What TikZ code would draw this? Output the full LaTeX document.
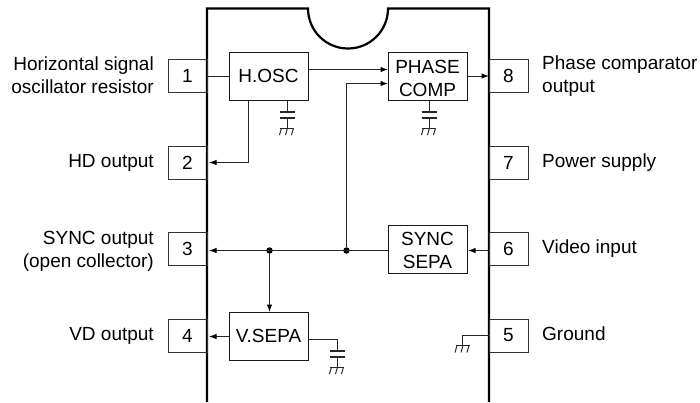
\documentclass[tikz,border=0pt]{standalone}
\usepackage{fontspec}
\setmainfont{Liberation Sans}
\usetikzlibrary{arrows.meta}
\tikzset{
  x=1pt,y=-1pt,
  txt/.style={font=\fontsize{19}{23}\selectfont},
  pin/.style={draw=black!80,line width=1pt,minimum width=39pt,minimum height=33pt,inner sep=0pt,outer sep=0pt,txt},
  block/.style={draw=black!90,line width=1pt,minimum width=79pt,minimum height=48pt,inner sep=0pt,outer sep=0pt,align=center,txt},
  lab/.style={align=right,anchor=east,txt,inner sep=0pt},
  labr/.style={align=left,anchor=west,txt,inner sep=0pt},
  wire/.style={draw=black!85,line width=1pt},
  arr/.style={wire,-{Latex[length=7.5pt,width=5.5pt,black]}},
  dot/.style={circle,fill=black,minimum size=6.5pt,inner sep=0pt},
  gnd/.pic={
    \draw[wire,line cap=butt] (-7,0)--(7,0);
    \foreach \dx in {-6,0,6}{\draw[wire] (\dx+0.5,0)--(\dx-1.5,7);}
  },
  capgnd/.pic={
    \draw[wire,line width=1.3pt] (-7.5,0)--(7.5,0) (-7.5,6)--(7.5,6);
    \draw[wire] (0,6)--(0,16);
    \pic at (0,16) {gnd};
  }
}
\begin{document}
\begin{tikzpicture}
\useasboundingbox (0,0) rectangle (700,402);
% package outline
\draw[line width=2.2pt,line join=miter] (207,402)--(207,8.5)--(308,8.5) arc[start angle=180,end angle=360,radius=40,y radius=-40] --(489,8.5)--(489,402);
% pins
\node[pin] (p1) at (187.5,76) {1};
\node[pin] (p2) at (187.5,162.5) {2};
\node[pin] (p3) at (187.5,249) {3};
\node[pin] (p4) at (187.5,335.5) {4};
\node[pin] (p8) at (508.5,76) {8};
\node[pin] (p7) at (508.5,162.5) {7};
\node[pin] (p6) at (508.5,249) {6};
\node[pin] (p5) at (508.5,335.5) {5};
% blocks
\node[block] (hosc) at (268.5,76) {H.OSC};
\node[block] (phase) at (427.5,76) {\rule{0pt}{18.5pt}PHASE\\COMP};
\node[block] (sync) at (427.5,249) {\rule{0pt}{16.5pt}SYNC\\SEPA};
\node[block] (vsepa) at (268.5,336) {V.SEPA};
% junctions
\node[dot] (j1) at (346.5,250.5) {};
\node[dot] (j2) at (269.5,250.5) {};
% free ends
\coordinate (a1) at (308,69.5);
\coordinate (a2) at (388,69.5);
\coordinate (b1) at (346.5,83.5);
\coordinate (b2) at (388,83.5);
\coordinate (c1) at (248.5,100);
\coordinate (c2) at (248.5,162.5);
\coordinate (c3) at (209,162.5);
\coordinate (d1) at (308,339.5);
\coordinate (d2) at (337,339.5);
\coordinate (d3) at (337,351);
\coordinate (e1) at (287,100);
\coordinate (e2) at (287,112);
\coordinate (f1) at (429,100);
\coordinate (f2) at (429,112);
\coordinate (g1) at (489,335.5);
\coordinate (g2) at (462.5,335.5);
\coordinate (g3) at (462.5,345.5);
\coordinate (h1) at (388,250.5);
\coordinate (h2) at (209,250.5);
\coordinate (k1) at (269.5,312);
\coordinate (m1) at (209,336.5);
\coordinate (m2) at (229,336.5);
\coordinate (n1) at (489,250.5);
\coordinate (n2) at (468,250.5);
% connectors
\draw[wire] (p1.east)--(hosc.west);
\draw[arr] (a1)--(a2);
\draw[arr] (j1)--(b1)--(b2);
\draw[arr] (c1)--(c2)--(c3);
\draw[arr] (h1)--(h2);
\draw[arr] (j2)--(k1);
\draw[arr] (m2)--(m1);
\draw[arr] (phase.east)--(p8.west);
\draw[arr] (n1)--(n2);
\draw[wire] (d1)--(d2)--(d3);
\draw[wire] (e1)--(e2);
\draw[wire] (f1)--(f2);
\draw[wire] (g1)--(g2)--(g3);
\pic at (e2) {capgnd};
\pic at (f2) {capgnd};
\pic at (d3) {capgnd};
\pic at (g3) {gnd};
% labels
\node[lab] (l1) at (154,75.5) {Horizontal signal\\oscillator resistor};
\node[lab] (l2) at (154,162.5) {HD output};
\node[lab] (l3) at (154,251.5) {SYNC output\\(open collector)};
\node[lab] (l4) at (154,335.5) {VD output};
\node[labr] (r8) at (542,76.5) {Phase comparator\\output};
\node[labr] (r7) at (542,162.5) {Power supply};
\node[labr] (r6) at (542,249) {Video input};
\node[labr] (r5) at (542,334) {Ground};
\end{tikzpicture}
\end{document}
